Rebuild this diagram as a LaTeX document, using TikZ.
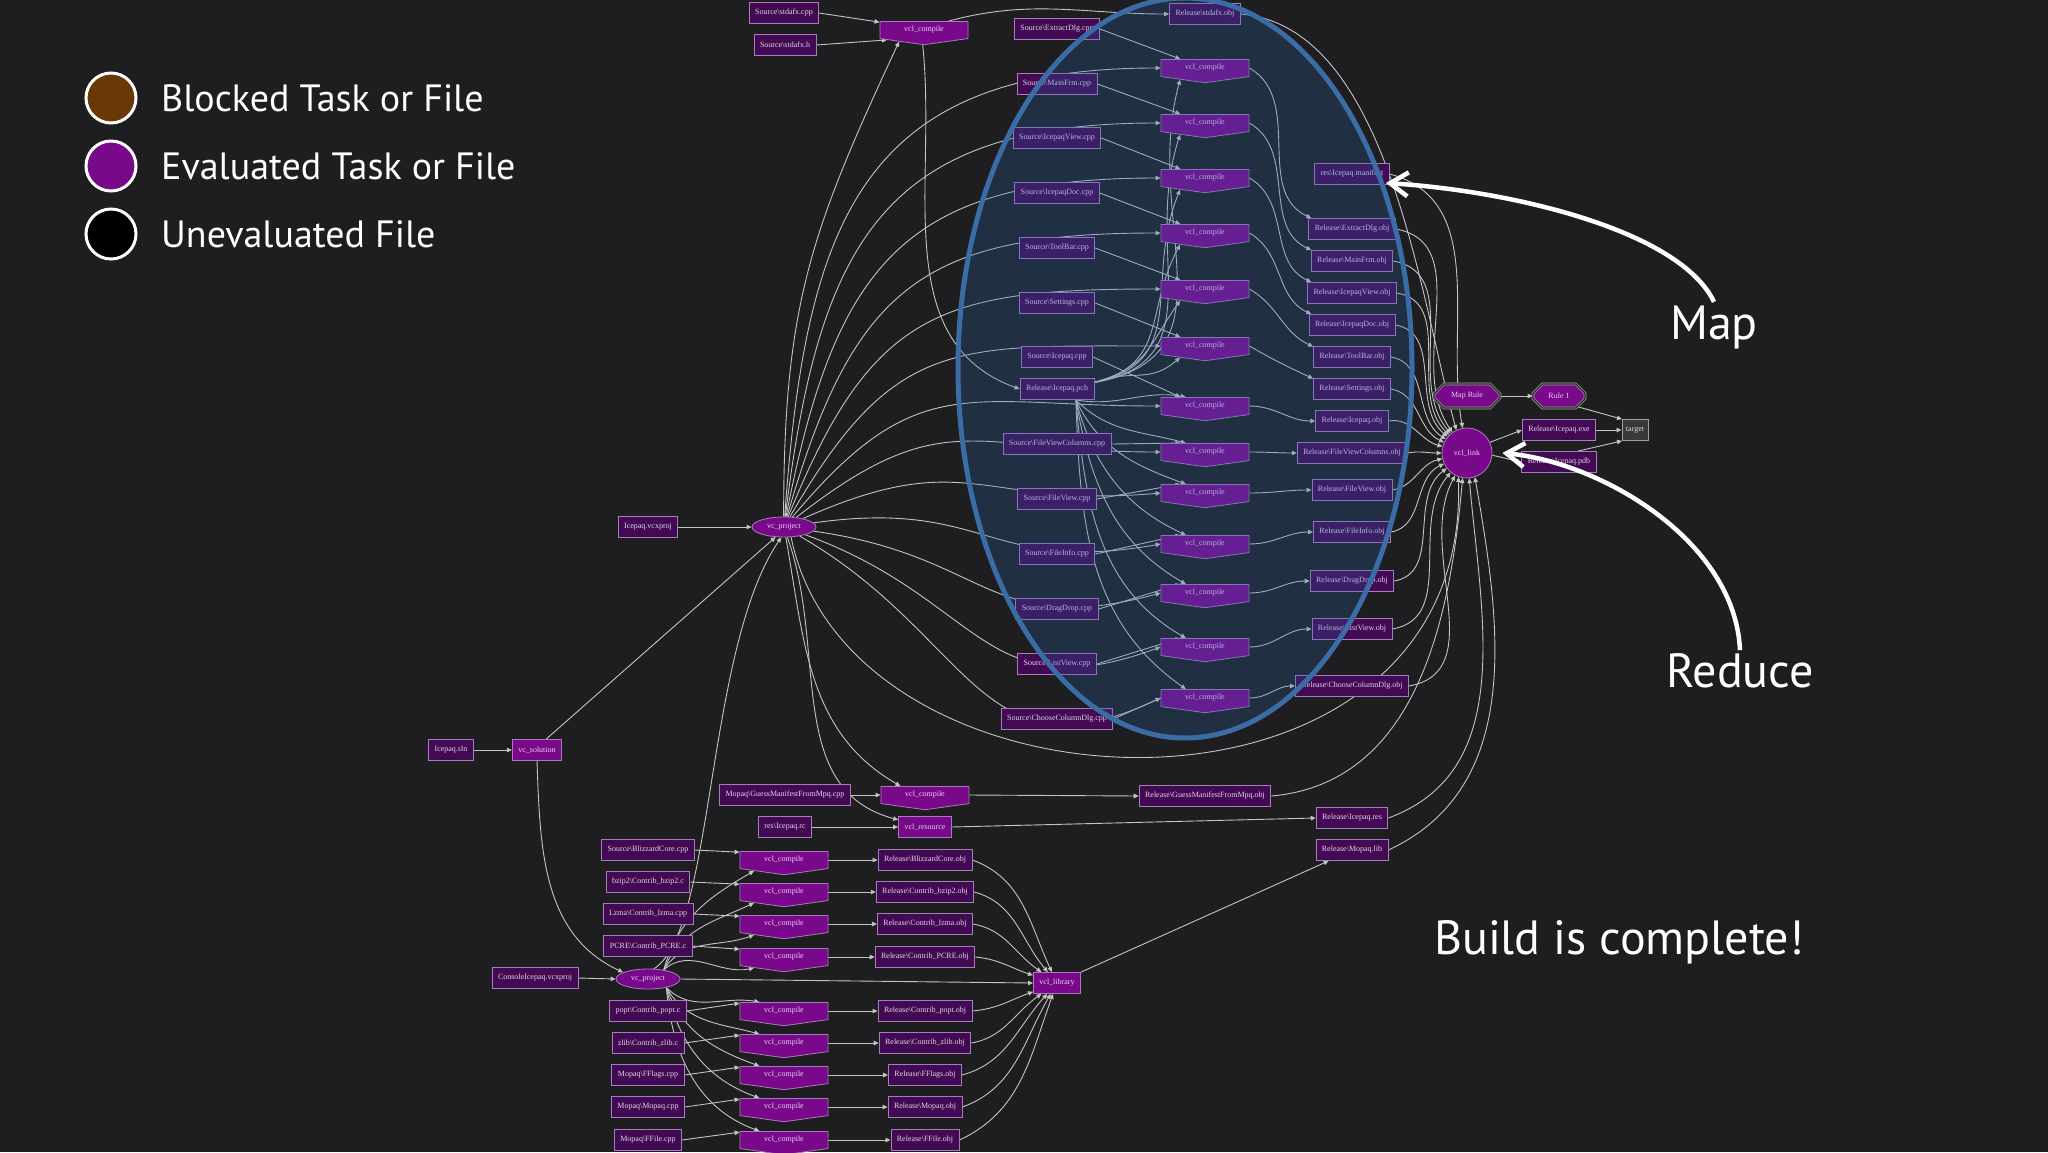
\documentclass[tikz,border=0pt]{standalone}
\usepackage{fontspec}
\setmainfont{Liberation Serif}
\newfontfamily\slidefont{PT Sans}
\usetikzlibrary{positioning,arrows.meta,shapes.geometric,shapes.symbols,shapes.misc}

\definecolor{slidebg}{RGB}{30,30,32}
\definecolor{filefill}{RGB}{66,10,82}
\definecolor{taskfill}{RGB}{122,8,138}
\definecolor{nodeline}{RGB}{165,125,185}
\definecolor{nodetext}{RGB}{230,208,240}
\definecolor{edgec}{RGB}{196,196,196}
\definecolor{mapblue}{RGB}{58,108,165}
\definecolor{mapfill}{RGB}{40,100,170}
\definecolor{blockbrown}{RGB}{104,56,6}

\pgfdeclarelayer{bglayer}
\pgfdeclarelayer{edgelayer}
\pgfsetlayers{bglayer,edgelayer,main}

\newcommand{\fsep}{\textbackslash}

\begin{document}
\begin{tikzpicture}[x=1pt, y=1pt, >={Triangle[length=5pt,width=4.5pt]},
    file/.style={draw=nodeline, fill=filefill, line width=0.8pt, text=nodetext,
        font=\fontsize{8}{9}\selectfont, minimum height=21pt, inner xsep=6pt, inner ysep=1pt},
    task/.style={shape=signal, signal to=south, signal pointer angle=164, draw=nodeline,
        fill=taskfill, line width=0.8pt, text=nodetext, font=\fontsize{8}{9}\selectfont,
        minimum width=88pt, minimum height=20pt, inner sep=1pt},
    taskbox/.style={file, fill=taskfill},
    proj/.style={ellipse, draw=nodeline, fill=taskfill, line width=0.8pt, text=nodetext,
        font=\fontsize{8}{9}\selectfont, minimum width=64pt, minimum height=20pt, inner sep=1pt},
    rulebox/.style={chamfered rectangle, chamfered rectangle xsep=7pt, draw=gray!75,
        double=gray!30!black, double distance=1.2pt, line width=0.7pt, fill=taskfill,
        text=nodetext, font=\fontsize{8}{9}\selectfont, minimum height=24pt, inner xsep=4pt},
    dep/.style={->, draw=edgec, line width=0.9pt},
    legenddot/.style={circle, draw=white, line width=3pt, minimum size=50pt},
    legendtext/.style={text=white, font=\slidefont\fontsize{38}{40}\selectfont, anchor=base west, inner sep=0pt},
    bigtext/.style={text=white, font=\slidefont\fontsize{48}{50}\selectfont},
    bigarrow/.style={draw=white, line width=4.5pt, -{Straight Barb[length=18pt,width=24pt,line width=4.5pt]}}]
    \useasboundingbox (0,0) rectangle (2048,-1152);
    \begin{pgfonlayer}{bglayer}
        \fill[slidebg] (0,0) rectangle (2048,-1152);
    \end{pgfonlayer}

    % --- Legend ---
    \node[legenddot, fill=blockbrown] (lgblocked) at (111,-98) {};
    \node[legendtext] (txblocked) at (161,-111.5) {Blocked Task or File};
    \node[legenddot, fill=taskfill] (lgeval) at (111,-166) {};
    \node[legendtext] (txeval) at (161,-179.5) {Evaluated Task or File};
    \node[legenddot, fill=black] (lgunev) at (111,-234) {};
    \node[legendtext] (txunev) at (161,-247.5) {Unevaluated File};

    % --- Project nodes ---
    \node[file] (vcx) at (648,-527) {Icepaq.vcxproj};
    \node[proj] (vcu) at (784,-527) {vc\_project};
    \node[file] (sln) at (451,-750) {Icepaq.sln};
    \node[taskbox] (sol) at (537,-750) {vc\_solution};
    \node[file] (cvx) at (535,-978) {ConsoleIcepaq.vcxproj};
    \node[proj] (vcd) at (648,-979) {vc\_project};

    % --- Precompiled header ---
    \node[file] (stdcpp) at (784,-13) {Source\fsep stdafx.cpp};
    \node[file] (stdh) at (785,-45) {Source\fsep stdafx.h};
    \node[task] (ctop) at (924,-30) {vcl\_compile};
    \node[file] (sobj) at (1205,-14) {Release\fsep stdafx.obj};
    \node[file] (pch) at (1057,-389) {Release\fsep Icepaq.pch};
    \node[file] (man) at (1352,-174) {res\fsep Icepaq.manifest};

    % --- Link and target ---
    \node[circle, draw=nodeline, fill=taskfill, line width=0.8pt, text=nodetext,
        font=\fontsize{8}{9}\selectfont, minimum size=50pt, inner sep=0pt] (link) at (1467,-453) {vcl\_link};
    \node[rulebox, minimum width=66pt] (maprule) at (1467,-396) {Map Rule};
    \node[rulebox, minimum width=52pt] (rule1) at (1559,-396) {Rule 1};
    \node[file] (exe) at (1559,-430) {Release\fsep Icepaq.exe};
    \node[file] (pdb) at (1559,-462) {Release\fsep Icepaq.pdb};
    \node[file, fill=gray!45!black, draw=gray!75, inner xsep=4pt] (target) at (1635,-430) {target};

    % --- Resources and library ---
    \node[file] (gsrc) at (785,-795) {Mopaq\fsep GuessManifestFromMpq.cpp};
    \node[task] (cm) at (925,-795) {vcl\_compile};
    \node[file] (gobj) at (1205,-796) {Release\fsep GuessManifestFromMpq.obj};
    \node[file] (rc) at (785,-827) {res\fsep Icepaq.rc};
    \node[taskbox] (res) at (925,-827) {vcl\_resource};
    \node[file] (resobj) at (1352,-818) {Release\fsep Icepaq.res};
    \node[file] (mlib) at (1352,-850) {Release\fsep Mopaq.lib};
    \node[taskbox] (lib) at (1057,-983) {vcl\_library};

    \begin{pgfonlayer}{edgelayer}
        \draw[dep] (stdcpp.east) -- (ctop.170);
        \draw[dep] (stdh.east) -- (ctop.195);
        \draw[dep] (vcu.92) to[out=90, in=-115, looseness=1.1] (ctop.205);
        \draw[dep] (ctop.20) to[out=15, in=180] (sobj.west);
        \draw[dep] (ctop.-95) to[out=-84, in=160] (pch.west);
        \draw[dep] (sobj.east) to[out=-5, in=105, looseness=0.8] (link.115);
        \draw[dep] (man.east) to[out=-15, in=100] (link.100);
        \draw[dep] (gsrc.east) -- (cm.west);
        \draw[dep] (rc.east) -- (res.west);
        \draw[dep] (cm.east) -- (gobj.west);
        \draw[dep] (res.east) -- (resobj.west);
        \draw[dep] (vcu.-80) to[out=-80, in=150] (cm.160);
        \draw[dep] (vcu.-72) to[out=-70, in=165] (res.165);
        \draw[dep] (vcu.-55) .. controls (850,-830) and (1470,-850) .. (link.250);
        \draw[dep] (gobj.east) to[out=5, in=-95] (link.260);
        \draw[dep] (resobj.east) to[out=20, in=-85] (link.275);
        \draw[dep] (mlib.east) to[out=25, in=-80] (link.288);
        \draw[dep] (lib.north east) -- (mlib.205);
        \draw[dep] (vcd.east) -- (lib.west);
        \draw[dep] (cvx.east) -- (vcd.west);
        \draw[dep] (sol.south) to[out=-88, in=155] (vcd.165);
        \draw[dep] (sln.east) -- (sol.west);
        \draw[dep] (sol.50) -- (vcu.-130);
        \draw[dep] (vcx.east) -- (vcu.west);
        \draw[dep] (vcd.60) .. controls (715,-930) and (705,-650) .. (vcu.-105);
        \draw[dep] (link.25) -- (exe.west);
        \draw[dep] (link.-5) -- (pdb.west);
        \draw[dep] (exe.east) -- (target.west);
        \draw[dep] (pdb.30) -- (target.220);
        \draw[dep] (rule1.-30) -- (target.140);
        \draw[dep] (maprule.east) -- (rule1.west);
    \end{pgfonlayer}

    % --- Main compile column (map) ---
    \foreach \i/\nm/\sy/\cy/\oy/\vo/\vi/\po/\pin/\la in {
        1/ExtractDlg/29/68/229/86/180/10/-105/125,
        2/MainFrm/84/123/261/83/180/10/-108/130,
        3/IcepaqView/138/178/293/79/180/12/-112/135,
        4/IcepaqDoc/193/233/325/74/180/14/-118/140,
        5/ToolBar/248/289/357/68/180/16/-125/147,
        6/Settings/303/346/389/60/180/20/-140/155,
        7/Icepaq/357/406/421/50/180/-10/170/165,
        8/FileViewColumns/444/452/453/38/180/-45/165/180,
        9/FileView/499/493/490/24/185/-65/160/193,
        10/FileInfo/554/544/532/8/190/-75/155/205,
        11/DragDrop/609/593/581/-8/195/-80/150/217,
        12/ListView/664/647/629/-20/200/-85/150/230,
        13/ChooseColumnDlg/719/698/686/-30/205/-88/145/242}{
        \node[file] (s\i) at (1057,-\sy) {Source\fsep\nm.cpp};
        \node[task] (c\i) at (1205,-\cy) {vcl\_compile};
        \node[file] (o\i) at (1352,-\oy) {Release\fsep\nm.obj};
        \begin{pgfonlayer}{edgelayer}
            \draw[dep] (s\i.east) -- (c\i.160);
            \draw[dep] (vcu.\vo) to[out=\vo, in=\vi, looseness=1.3] (c\i.180);
            \ifnum\i<7
                \draw[dep] (pch.10) to[out=\po, in=\pin, looseness=1.2] (c\i.205);
                \draw[dep] (c\i.east) to[out=-30, in=155] (o\i.165);
                \draw[dep] (o\i.east) to[out=-10, in=\la] (link.\la);
            \else
                \draw[dep] (pch.-30) to[out=\po, in=\pin] (c\i.155);
                \draw[dep] (c\i.east) to[out=0, in=180] (o\i.west);
                \draw[dep] (o\i.east) to[out=10, in=\la] (link.\la);
            \fi
        \end{pgfonlayer}
    }

    % --- Library compile rows ---
    \foreach \j/\src/\obj/\sy/\cy/\vo/\vi/\lo/\li in {
        1/Source\fsep BlizzardCore.cpp/Release\fsep BlizzardCore.obj/850/860/75/-150/-20/115,
        2/bzip2\fsep Contrib\_bzip2.c/Release\fsep Contrib\_bzip2.obj/882/892/68/-155/-15/130,
        3/Lzma\fsep Contrib\_lzma.cpp/Release\fsep Contrib\_lzma.obj/914/924/58/-160/-10/145,
        4/PCRE\fsep Contrib\_PCRE.c/Release\fsep Contrib\_PCRE.obj/946/957/42/-168/-5/162,
        5/popt\fsep Contrib\_popt.c/Release\fsep Contrib\_popt.obj/1011/1011/-45/170/5/200,
        6/zlib\fsep Contrib\_zlib.c/Release\fsep Contrib\_zlib.obj/1043/1043/-60/165/10/215,
        7/Mopaq\fsep FFlags.cpp/Release\fsep FFlags.obj/1075/1075/-70/160/15/228,
        8/Mopaq\fsep Mopaq.cpp/Release\fsep Mopaq.obj/1107/1107/-78/160/20/240,
        9/Mopaq\fsep FFile.cpp/Release\fsep FFile.obj/1140/1140/-85/160/25/250}{
        \node[file] (ls\j) at (648,-\sy) {\src};
        \node[task] (lc\j) at (784,-\cy) {vcl\_compile};
        \node[file] (lo\j) at (925,-\cy) {\obj};
        \begin{pgfonlayer}{edgelayer}
            \draw[dep] (ls\j.east) -- (lc\j.170);
            \draw[dep] (lc\j.east) -- (lo\j.west);
            \draw[dep] (lo\j.east) to[out=\lo, in=\li] (lib.\li);
            \ifnum\j<5
                \draw[dep] (vcd.30) to[out=\vo, in=\vi] (lc\j.200);
            \else
                \draw[dep] (vcd.-25) to[out=\vo, in=\vi] (lc\j.160);
            \fi
        \end{pgfonlayer}
    }

    % --- Map region highlight ---
    \draw[mapblue, line width=5pt, fill=mapfill, fill opacity=0.25] (1185,-368) ellipse [x radius=227, y radius=370];

    % --- Annotations ---
    \node[bigtext] (map) at (1714,-327) {Map};
    \node[bigtext] (reduce) at (1740,-671) {Reduce};
    \node[bigtext] (done) at (1619,-942) {Build is complete!};
    \coordinate (maptip) at (1386,-183);
    \coordinate (reducetip) at ([xshift=10pt]link.east);
    \draw[bigarrow] (map.north) .. controls (1680,-231) and (1514,-191) .. (maptip);
    \draw[bigarrow] (reduce.north) .. controls (1735,-540) and (1600,-462) .. (reducetip);
\end{tikzpicture}
\end{document}
